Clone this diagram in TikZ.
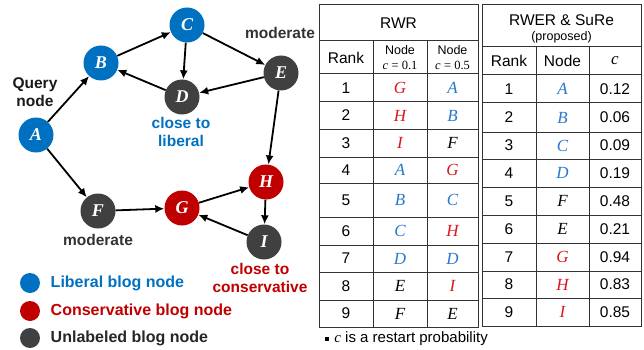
\documentclass[tikz,border=0pt]{standalone}
\usepackage[no-math]{fontspec}
\setmainfont{Liberation Sans}
\newfontfamily\letterfont{Liberation Serif}
\usetikzlibrary{arrows.meta,positioning}
\definecolor{libblue}{RGB}{0,112,192}
\definecolor{conred}{RGB}{192,0,0}
\definecolor{unlgray}{RGB}{64,64,64}
\definecolor{tabblue}{RGB}{40,120,205}
\definecolor{tabred}{RGB}{215,25,30}
\newcommand{\cvar}{{\letterfont\itshape c}}

\begin{document}
\begin{tikzpicture}[
			x=1pt, y=-1pt,
			>={Latex[length=9pt,width=8pt]},
			font=\fontsize{15.5}{18}\selectfont,
			blog/.style={
				circle,
				minimum size=35pt,
				inner sep=0pt,
				text=white,
				font=\fontsize{18}{18}\selectfont\letterfont\bfseries\itshape
			},
			liberal/.style={blog, fill=libblue},
			conserv/.style={blog, fill=conred},
			unlab/.style={blog, fill=unlgray},
			link/.style={->, line width=1.8pt},
			note/.style={
				align=center,
				font=\fontsize{15.5}{18}\selectfont\bfseries
			},
			legend/.style={
				circle,
				minimum size=20pt,
				inner sep=0pt
			},
			cell/.style={inner sep=0pt},
			small/.style={
				align=center,
				inner sep=0pt,
				font=\fontsize{12.5}{14.5}\selectfont
			},
			letter/.style={
				inner sep=0pt,
				font=\fontsize{17}{18}\selectfont\letterfont\itshape
			},
			grid/.style={
				draw=black!80,
				line width=1pt
			}
			]
			\useasboundingbox (0,0) rectangle (644,350);
			
			% We start by placing the blogs
			\node [liberal] (A) at (36,135) {A};
			\node [liberal] (B) at (101,63) {B};
			\node [liberal] (C) at (187,25) {C};
			\node [unlab] (D) at (182,97) {D};
			\node [unlab] (E) at (281,73) {E};
			\node [unlab] (F) at (98,211) {F};
			\node [conserv] (G) at (182,208) {G};
			\node [conserv] (H) at (266,182) {H};
			\node [unlab] (I) at (264,242) {I};
			
			\draw [link] (A) -- (B);
			\draw [link] (B) -- (C);
			\draw [link] (C) -- (D);
			\draw [link] (C) -- (E);
			\draw [link] (E) -- (D);
			\draw [link] (D) -- (B);
			\draw [link] (E) -- (H);
			\draw [link] (A) -- (F);
			\draw [link] (F) -- (G);
			\draw [link] (G) -- (H);
			\draw [link] (H) -- (I);
			\draw [link] (I) -- (G);
			
			% notes next to the blogs
			\node [note, text=black!90] (query) at (35,92) {Query\\node};
			\node [note, text=black!80] (modE) at (280,33) {moderate};
			\node [note, text=libblue] (closelib) at (181,132) {close to\\liberal};
			\node [note, text=black!80] (modF) at (98,240) {moderate};
			\node [note, text=conred] (closecon) at (260,278) {close to\\conservative};
			
			% legend
			\node [legend, fill=libblue] (leglib) at (30,283) {};
			\node [legend, fill=conred] (legcon) at (30,311) {};
			\node [legend, fill=unlgray] (legunl) at (30,338) {};
			\node [note, text=libblue, right=7pt of leglib, font=\fontsize{16}{18}\selectfont\bfseries] {Liberal blog node};
			\node [note, text=conred, right=7pt of legcon, font=\fontsize{16}{18}\selectfont\bfseries] {Conservative blog node};
			\node [note, text=black!85, right=7pt of legunl, font=\fontsize{16}{18}\selectfont\bfseries] {Unlabeled blog node};
			
			% RWR table
			\draw [grid] (319,5) rectangle (478,327);
			\foreach \y in {41,74,102,129,157,183,217,245,272,300}
				\draw [grid] (319,\y) -- (478,\y);
			\foreach \x in {373,427}
				\draw [grid] (\x,41) -- (\x,327);
			\node [cell] (rwr) at (398.5,23) {RWR};
			\node [cell] (rwrrank) at (346,57.5) {Rank};
			\node [small] (rwrlow) at (400,57.5) {Node\\\cvar{} {\letterfont= 0.1}};
			\node [small] (rwrhigh) at (452.5,57.5) {Node\\\cvar{} {\letterfont= 0.5}};
			\foreach \r/\y/\ca/\a/\cb/\b in {
					1/88/tabred/G/tabblue/A,
					2/115.5/tabred/H/tabblue/B,
					3/143/tabred/I/black/F,
					4/170/tabblue/A/tabred/G,
					5/200/tabblue/B/tabblue/C,
					6/231/tabblue/C/tabred/H,
					7/258.5/tabblue/D/tabblue/D,
					8/286/black/E/tabred/I,
					9/313.5/black/F/black/E}{
				\node [cell] (rwr\r) at (346,\y) {\r};
				\node [letter, text=\ca] (rwrlow\r) at (400,\y) {\a};
				\node [letter, text=\cb] (rwrhigh\r) at (452.5,\y) {\b};
			}
			
			% RWER & SuRe table
			\draw [grid] (482,5) rectangle (641,326);
			\foreach \y in {47,75,103,132,159,187,215,243,271,298}
				\draw [grid] (482,\y) -- (641,\y);
			\foreach \x in {536,589}
				\draw [grid] (\x,47) -- (\x,326);
			\node [cell] (rwer) at (561.5,20) {RWER \& SuRe};
			\node [small] (proposed) at (561.5,37) {(proposed)};
			\node [cell] (rwerrank) at (509,61) {Rank};
			\node [cell] (rwernode) at (562.5,61) {Node};
			\node [letter] (rwerc) at (615,61) {c};
			\foreach \r/\y/\col/\n/\c in {
					1/89/tabblue/A/0.12,
					2/117.5/tabblue/B/0.06,
					3/145.5/tabblue/C/0.09,
					4/173/tabblue/D/0.19,
					5/201/black/F/0.48,
					6/229/black/E/0.21,
					7/257/tabred/G/0.94,
					8/284.5/tabred/H/0.83,
					9/312/tabred/I/0.85}{
				\node [cell] (rwer\r) at (509,\y) {\r};
				\node [letter, text=\col] (rwernode\r) at (562.5,\y) {\n};
				\node [cell] (rwerc\r) at (615,\y) {\c};
			}
			
			% footnote
			\node [fill=black, minimum size=4pt, inner sep=0pt] (bullet) at (327,339) {};
			\node [right=5pt of bullet, inner sep=0pt, font=\fontsize{15}{16}\selectfont] (foot) {\cvar{} is a restart probability};
			
\end{tikzpicture}
\end{document}
